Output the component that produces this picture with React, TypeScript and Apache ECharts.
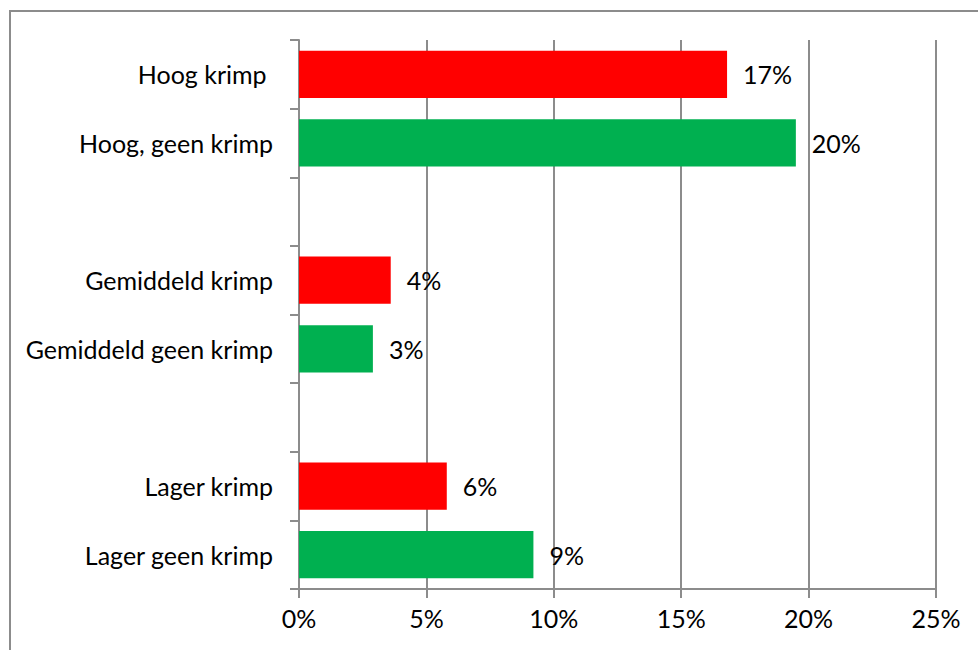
import React, { useEffect, useRef } from "react";
import * as echarts from "echarts";

const categories = [
  "Hoog krimp ",
  "Hoog, geen krimp",
  "",
  "Gemiddeld krimp",
  "Gemiddeld geen krimp",
  "",
  "Lager krimp",
  "Lager geen krimp",
];
const values: (number | null)[] = [16.8, 19.5, null, 3.6, 2.9, null, 5.8, 9.2];
const kinds = ["krimp", "geen", "", "krimp", "geen", "", "krimp", "geen"];
const xTicks = { min: 0, max: 25, interval: 5 };

const COLORS: Record<string, string> = { krimp: "#ff0000", geen: "#00b050" };
const GRAY = "#8c8c8c";
const FONT = "Lato";
const FS = 25;

export default function App() {
  const ref = useRef<HTMLDivElement>(null);
  useEffect(() => {
    if (!ref.current) return;
    const chart = echarts.init(ref.current, null, { renderer: "svg" });
    chart.setOption({
      animation: false,
      backgroundColor: "#ffffff",
      textStyle: { fontFamily: FONT },
      grid: { left: 299, right: 42, top: 40, bottom: 61, containLabel: false },
      xAxis: {
        type: "value",
        min: xTicks.min,
        max: xTicks.max,
        interval: xTicks.interval,
        axisLine: { show: true, lineStyle: { color: GRAY, width: 2 } },
        axisTick: { show: true, length: 9, lineStyle: { color: GRAY, width: 2 } },
        splitLine: { show: true, lineStyle: { color: GRAY, width: 2 } },
        axisLabel: {
          formatter: "{value}%",
          color: "#000",
          fontSize: FS,
          fontFamily: FONT,
          margin: 16,
        },
      },
      yAxis: {
        type: "category",
        inverse: true,
        data: categories,
        axisLine: { show: true, lineStyle: { color: GRAY, width: 2 } },
        axisTick: { show: true, length: 9, alignWithLabel: false, lineStyle: { color: GRAY, width: 2 } },
        splitLine: { show: false },
        axisLabel: {
          color: "#000",
          fontSize: FS,
          fontFamily: FONT,
          margin: 26,
          interval: 0,
        },
      },
      series: [
        {
          type: "bar",
          barCategoryGap: "31%",
          data: values.map((v, i) => ({
            value: v === null ? "-" : v,
            itemStyle: { color: COLORS[kinds[i]] || "#000" },
          })),
          label: {
            show: true,
            position: "right",
            distance: 16,
            color: "#000",
            fontSize: FS,
            fontFamily: FONT,
            formatter: (p: any) => Math.round(p.value) + "%",
          },
        },
      ],
      graphic: [
        {
          type: "rect",
          shape: { x: 10, y: 11, width: 1100, height: 800 },
          style: { fill: "none", stroke: GRAY, lineWidth: 2 },
          silent: true,
        },
      ],
    });
    return () => chart.dispose();
  }, []);
  return (
    <div
      ref={ref}
      style={{ position: "fixed", left: 0, top: 0, width: 978, height: 650 }}
    />
  );
}
